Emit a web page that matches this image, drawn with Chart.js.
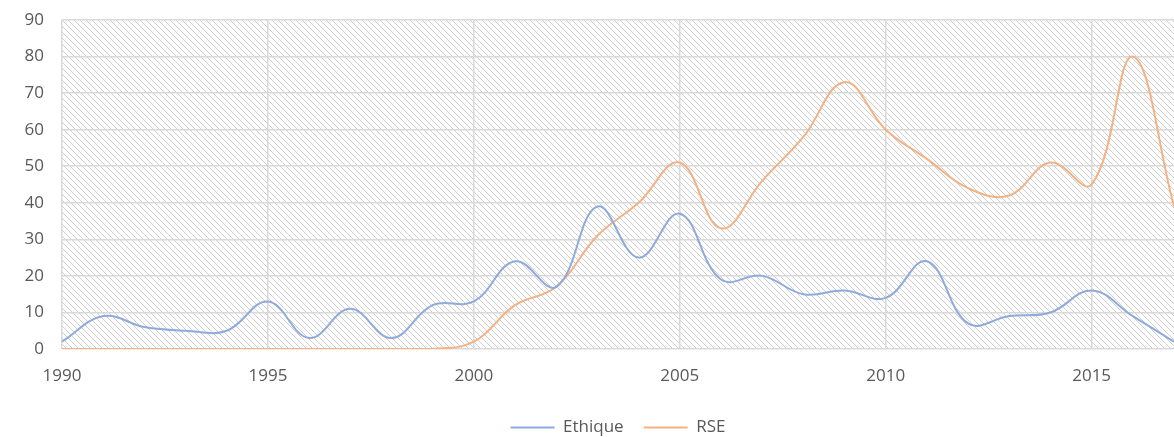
<!DOCTYPE html>
<html>
<head>
<meta charset="utf-8">
<script src="https://cdn.jsdelivr.net/npm/chart.js@4"></script>
<style>
  html, body { margin: 0; padding: 0; background: #fff; }
  #wrap { width: 1174px; height: 437px; }
</style>
</head>
<body>
<div id="wrap"><canvas id="chart"></canvas></div>
<script>
const years = [1990, 1991, 1992, 1993, 1994, 1995, 1996, 1997, 1998, 1999,
               2000, 2001, 2002, 2003, 2004, 2005, 2006, 2007, 2008, 2009,
               2010, 2011, 2012, 2013, 2014, 2015, 2016, 2017];
const ethique = [2, 9, 6, 5, 5, 13, 3, 11, 3, 12,
                 13, 24, 17, 39, 25, 37, 19, 20, 15, 16,
                 14, 24, 7, 9, 10, 16, 9, 2];
const rse = [0, 0, 0, 0, 0, 0, 0, 0, 0, 0,
             2, 12, 17, 31, 40, 51, 33, 46, 58, 73,
             60, 52, 44, 42, 51, 45, 80, 39];
const yTicks = [0, 10, 20, 30, 40, 50, 60, 70, 80, 90];

const gridColor = '#d9d9d9';
const textColor = '#595959';
const font = { family: 'Open Sans, Lato, sans-serif', size: 17 };

// diagonal hatch drawn behind the plot area
function makeHatch() {
    const s = 6;
    const c = document.createElement('canvas');
    c.width = s; c.height = s;
    const g = c.getContext('2d');
    g.fillStyle = '#ffffff';
    g.fillRect(0, 0, s, s);
    g.strokeStyle = '#cfcfcf';
    g.lineWidth = 1;
    g.beginPath();
    g.moveTo(-1, -1); g.lineTo(s + 1, s + 1);
    g.moveTo(-1, s - 1); g.lineTo(1, s + 1);
    g.moveTo(s - 1, -1); g.lineTo(s + 1, 1);
    g.stroke();
    return g.createPattern(c, 'repeat');
}

const hatchPlugin = {
    id: 'hatch',
    beforeDraw(chart) {
        const { ctx, chartArea: a } = chart;
        ctx.save();
        ctx.fillStyle = makeHatch();
        ctx.fillRect(a.left, a.top, a.right - a.left, a.bottom - a.top);
        ctx.restore();
    }
};

const ctx = document.getElementById('chart').getContext('2d');
new Chart(ctx, {
    type: 'line',
    data: {
        labels: years,
        datasets: [{
            label: 'Ethique',
            data: ethique,
            borderColor: '#8faadc',
            backgroundColor: '#8faadc',
            borderWidth: 2,
            pointRadius: 0,
            tension: 0.4,
            fill: false
        }, {
            label: 'RSE',
            data: rse,
            borderColor: '#f4b183',
            backgroundColor: '#f4b183',
            borderWidth: 2,
            pointRadius: 0,
            tension: 0.4,
            fill: false
        }]
    },
    options: {
        responsive: true,
        maintainAspectRatio: false,
        animation: false,
        layout: { padding: { top: 20, right: 0, left: 0, bottom: -9 } },
        plugins: {
            legend: {
                display: true,
                position: 'bottom',
                fullSize: false,
                labels: {
                    color: textColor,
                    font: { family: font.family, size: 17 },
                    boxWidth: 44,
                    boxHeight: 2,
                    padding: 20,
                    generateLabels(chart) {
                        return Chart.defaults.plugins.legend.labels.generateLabels(chart)
                            .map(l => Object.assign(l, { lineWidth: 0 }));
                    }
                }
            },
            tooltip: { enabled: false }
        },
        scales: {
            x: {
                type: 'category',
                offset: false,
                border: { display: false },
                grid: {
                    color: c => (years[c.index] % 5 === 0 && c.index < years.length - 1) ? gridColor : 'rgba(0,0,0,0)',
                    lineWidth: 1.5,
                    drawTicks: false
                },
                ticks: {
                    autoSkip: false,
                    maxRotation: 0,
                    padding: 17,
                    color: textColor,
                    font: font,
                    callback: (v, i) => years[i] % 5 === 0 ? String(years[i]) : ''
                },
                afterFit(scale) {
                    scale.height = 50;
                    scale.paddingRight = 0;
                }
            },
            y: {
                min: 0,
                max: 90,
                border: { display: false },
                afterBuildTicks(scale) { scale.ticks = yTicks.map(v => ({ value: v })); },
                grid: { color: gridColor, lineWidth: 1.5, drawTicks: false },
                ticks: {
                    padding: 18,
                    color: textColor,
                    font: font
                },
                afterFit(scale) {
                    scale.width = 62;
                    scale.paddingTop = 0;
                    scale.paddingBottom = 0;
                }
            }
        }
    },
    plugins: [hatchPlugin]
});
</script>
</body>
</html>
